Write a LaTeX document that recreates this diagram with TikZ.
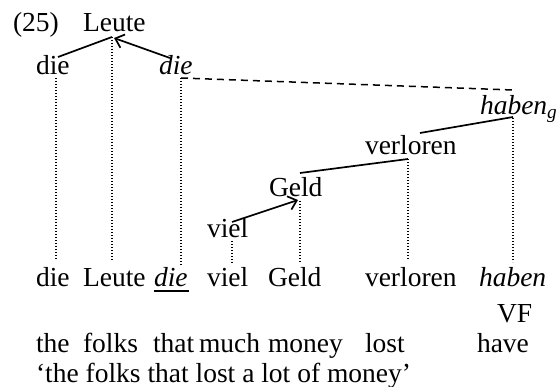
\documentclass[tikz,border=0pt]{standalone}
\usepackage{fontspec}
\setmainfont{Liberation Serif}
\usetikzlibrary{arrows.meta}
\begin{document}
\begin{tikzpicture}[x=1pt,y=-1pt,
  every node/.style={inner sep=0pt,outer sep=0pt,anchor=base west,font=\fontsize{27.5}{33}\selectfont},
  branch/.style={line width=1.7pt},
  headed/.style={line width=1.7pt,-{Straight Barb[length=8pt,width=14pt,line width=1.7pt]}},
  proj/.style={line width=1.3pt,dash pattern=on 1.3pt off 1.7pt},
  pathline/.style={line width=1.5pt,dash pattern=on 7pt off 5pt}]
\useasboundingbox (0,0) rectangle (559,387);
% tree words
\node (n25) at (13,32) {(25)};
\node (tLeute) at (83,32) {Leute};
\node (tdieA) at (36,75) {die};
\node (tdieB) at (159,75) {\itshape die};
\node (thaben) at (480,115) {\itshape haben\textsubscript{g}};
\node (tverloren) at (365,155) {verloren};
\node (tGeld) at (269,197) {Geld};
\node (tviel) at (207,237) {viel};
% sentence
\node (bdie) at (36,286) {die};
\node (bLeute) at (83,286) {Leute};
\node (bdieB) at (154,286) {\itshape die};
\node (bviel) at (207,286) {viel};
\node (bGeld) at (268,286) {Geld};
\node (bverloren) at (365,286) {verloren};
\node (bhaben) at (479,286) {\itshape haben};
\node (vf) at (497,322) {VF};
% gloss
\node (gthe) at (36,352) {the};
\node (gfolks) at (83,352) {folks};
\node (gthat) at (153,352) {that};
\node (gmuch) at (199,352) {much};
\node (gmoney) at (268,352) {money};
\node (glost) at (365,352) {lost};
\node (ghave) at (477,352) {have};
\node (free) at (36,382) {‘the folks that lost a lot of money’};
% attachment points
\coordinate (LeuteTop) at (112,37);
\coordinate (LeuteTip) at (114,38);
\coordinate (dieAtop) at (58,57);
\coordinate (dieBtop) at (170,58);
\coordinate (dieAbot) at (56,78);
\coordinate (dieBbot) at (181,78);
\coordinate (habenTop) at (513,117);
\coordinate (habenBot) at (513,118);
\coordinate (habenDash) at (513,90);
\coordinate (verlorenTop) at (420,133);
\coordinate (verlorenBot) at (408,159);
\coordinate (GeldTop) at (300,173);
\coordinate (GeldTip) at (298,200);
\coordinate (GeldBot) at (300,201);
\coordinate (vielTop) at (232,222);
\coordinate (vielBot) at (232,241);
\coordinate (bdieU) at (56,259);
\coordinate (bLeuteU) at (112,261);
\coordinate (bdieBU) at (181,265);
\coordinate (bvielU) at (232,264);
\coordinate (bGeldU) at (300,263);
\coordinate (bverlorenU) at (408,259);
\coordinate (bhabenU) at (513,262);
\coordinate (ulA) at (154,291);
\coordinate (ulB) at (189,291);
% connectors
\draw[branch] (dieAtop) -- (LeuteTop);
\draw[headed] (dieBtop) -- (LeuteTip);
\draw[pathline] (dieBbot) -- (habenDash);
\draw[branch] (verlorenTop) -- (habenTop);
\draw[branch] (GeldTop) -- (verlorenBot);
\draw[headed] (vielTop) -- (GeldTip);
\draw[proj] (dieAbot) -- (bdieU);
\draw[proj] (LeuteTop) -- (bLeuteU);
\draw[proj] (dieBbot) -- (bdieBU);
\draw[proj] (vielBot) -- (bvielU);
\draw[proj] (GeldBot) -- (bGeldU);
\draw[proj] (verlorenBot) -- (bverlorenU);
\draw[proj] (habenBot) -- (bhabenU);
\draw[line width=1.3pt] (ulA) -- (ulB);
\end{tikzpicture}
\end{document}
